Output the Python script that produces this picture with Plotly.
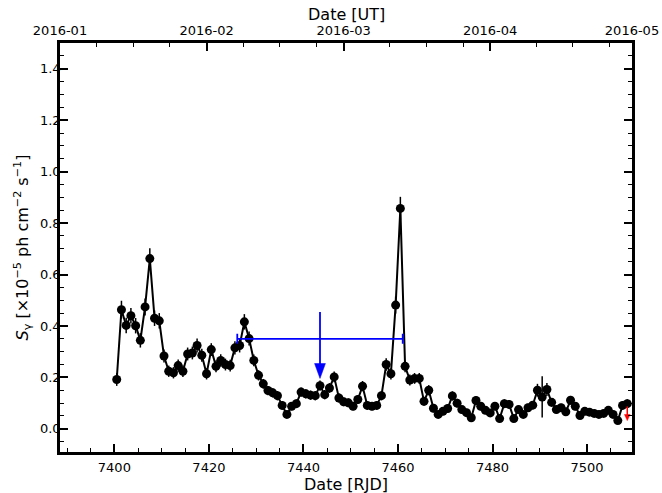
import numpy as np
import pandas as pd
import plotly.graph_objects as go

# ---------------- data ----------------
rjd = np.arange(7400.5, 7509.5, 1.0)  # daily bins (RJD = JD - 2450000)

flux = [0.192, 0.463, 0.402, 0.44, 0.401, 0.344, 0.474, 0.662, 0.43, 0.42,
        0.283, 0.224, 0.218, 0.246, 0.224, 0.291, 0.295, 0.324, 0.286, 0.214,
        0.308, 0.243, 0.266, 0.25, 0.246, 0.315, 0.324, 0.416, 0.351, 0.266,
        0.208, 0.175, 0.149, 0.14, 0.129, 0.091, 0.056, 0.088, 0.098, 0.143,
        0.136, 0.131, 0.129, 0.168, 0.133, 0.159, 0.202, 0.12, 0.105, 0.101,
        0.088, 0.114, 0.166, 0.091, 0.088, 0.091, 0.129, 0.25, 0.214, 0.481,
        0.857, 0.243, 0.19, 0.196, 0.196, 0.107, 0.15, 0.08, 0.056, 0.068,
        0.079, 0.128, 0.1, 0.075, 0.063, 0.043, 0.11, 0.088, 0.072, 0.062,
        0.088, 0.04, 0.098, 0.095, 0.04, 0.075, 0.056, 0.082, 0.092, 0.15,
        0.124, 0.153, 0.103, 0.075, 0.082, 0.066, 0.111, 0.088, 0.052, 0.068,
        0.065, 0.06, 0.056, 0.06, 0.072, 0.056, 0.032, 0.091, 0.098]

flux_err = [0.025, 0.035, 0.03, 0.03, 0.03, 0.028, 0.033, 0.04, 0.03, 0.03,
            0.025, 0.022, 0.022, 0.024, 0.022, 0.025, 0.025, 0.027, 0.025, 0.022,
            0.025, 0.023, 0.024, 0.023, 0.023, 0.026, 0.027, 0.03, 0.027, 0.023,
            0.02, 0.019, 0.018, 0.018, 0.018, 0.016, 0.014, 0.016, 0.017, 0.018,
            0.018, 0.018, 0.018, 0.02, 0.018, 0.019, 0.021, 0.018, 0.017, 0.017,
            0.016, 0.017, 0.02, 0.016, 0.016, 0.016, 0.018, 0.024, 0.022, 0.033,
            0.045, 0.023, 0.021, 0.021, 0.021, 0.017, 0.02, 0.016, 0.014, 0.015,
            0.016, 0.018, 0.017, 0.015, 0.015, 0.013, 0.017, 0.016, 0.015, 0.015,
            0.016, 0.013, 0.017, 0.017, 0.013, 0.015, 0.014, 0.016, 0.016, 0.025,
            0.08, 0.025, 0.017, 0.015, 0.016, 0.015, 0.017, 0.016, 0.014, 0.015,
            0.015, 0.014, 0.014, 0.014, 0.015, 0.014, 0.013, 0.016, 0.017]

# long-integration upper limit (blue)
ul_x = [7443.5]
ul_xerr = [17.5]
ul_y = [0.35]
ul_tip = [0.196]
ul_top = [0.454]

# last-bin upper limit (red)
red_x = [7508.5]
red_y = [0.087]
red_tip = [0.032]

month_labels = ["2016-01", "2016-02", "2016-03", "2016-04", "2016-05"]

# ---------------- helpers ----------------
def to_rjd(datestr):
    mjd = (pd.Timestamp(datestr) - pd.Timestamp("1858-11-17")).days
    return mjd - 49999.5

month_pos = [to_rjd(m + "-01") for m in month_labels]
step = (month_pos[1] - month_pos[0]) / 4.0
top_minor = [month_pos[0] + k * step for k in range(1, 16) if k % 4 != 0]

FONT = "DejaVu Sans"
BLUE = "#0000ff"
RED = "#ff0000"

fig = go.Figure()

# black light curve
fig.add_trace(go.Scatter(
    x=rjd, y=flux, mode="lines+markers",
    line=dict(color="black", width=2),
    marker=dict(color="black", size=9),
    error_y=dict(type="data", array=flux_err, color="black", thickness=1.5, width=0),
    showlegend=False, hoverinfo="skip"))

# blue upper limit: horizontal bar with caps + vertical shaft
fig.add_trace(go.Scatter(
    x=ul_x, y=ul_y, mode="markers", marker=dict(size=1, color=BLUE, opacity=0),
    error_x=dict(type="data", array=ul_xerr, color=BLUE, thickness=1.8, width=5),
    showlegend=False, hoverinfo="skip"))
fig.add_trace(go.Scatter(
    x=[ul_x[0], ul_x[0]], y=[ul_top[0], ul_tip[0] + 0.03], mode="lines",
    line=dict(color=BLUE, width=1.8), showlegend=False, hoverinfo="skip"))
hw, hh = 1.15, 0.058
fig.add_trace(go.Scatter(
    x=[ul_x[0] - hw, ul_x[0] + hw, ul_x[0], ul_x[0] - hw],
    y=[ul_tip[0] + hh, ul_tip[0] + hh, ul_tip[0], ul_tip[0] + hh],
    mode="lines", fill="toself", fillcolor=BLUE, line=dict(color=BLUE, width=0.5),
    showlegend=False, hoverinfo="skip"))

# red upper limit
fig.add_trace(go.Scatter(
    x=[red_x[0], red_x[0]], y=[red_y[0], red_tip[0] + 0.01], mode="lines",
    line=dict(color=RED, width=1.5), showlegend=False, hoverinfo="skip"))
rhw, rhh = 0.6, 0.024
fig.add_trace(go.Scatter(
    x=[red_x[0] - rhw, red_x[0] + rhw, red_x[0], red_x[0] - rhw],
    y=[red_tip[0] + rhh, red_tip[0] + rhh, red_tip[0], red_tip[0] + rhh],
    mode="lines", fill="toself", fillcolor=RED, line=dict(color=RED, width=0.5),
    showlegend=False, hoverinfo="skip"))

# invisible trace to activate top axis
fig.add_trace(go.Scatter(
    x=[month_pos[0], month_pos[-1]], y=[0, 0], xaxis="x2", mode="markers",
    marker=dict(opacity=0), showlegend=False, hoverinfo="skip"))

xr = [month_pos[0], month_pos[-1]]
tickfont = dict(family=FONT, size=13, color="black")
titlefont = dict(family=FONT, size=16, color="black")

fig.update_layout(
    width=662, height=493,
    margin=dict(l=60, r=30, t=43, b=41),
    paper_bgcolor="white", plot_bgcolor="white",
    font=dict(family=FONT, color="black"),
    xaxis=dict(
        range=xr, tick0=7400, dtick=20, ticks="inside", ticklen=8, tickwidth=1.5,
        tickcolor="black", ticklabelstandoff=2,
        minor=dict(tick0=7400, dtick=5, ticks="inside", ticklen=4, tickwidth=1, tickcolor="black"),
        showline=True, linewidth=2.5, linecolor="black", mirror=False,
        showgrid=False, zeroline=False, tickfont=tickfont,
        automargin=False),
    xaxis2=dict(
        range=xr, overlaying="x", side="top", anchor="y",
        tickmode="array", tickvals=month_pos, ticktext=month_labels,
        ticks="inside", ticklen=8, tickwidth=1.5, tickcolor="black",
        minor=dict(tickvals=top_minor, ticks="inside", ticklen=4, tickwidth=1, tickcolor="black"),
        showline=True, linewidth=2.5, linecolor="black",
        showgrid=False, zeroline=False, tickfont=tickfont,
        automargin=False),
    yaxis=dict(
        range=[-0.09, 1.5], tick0=0, dtick=0.2, tickformat=".1f",
        ticks="inside", ticklen=8, tickwidth=1.5, tickcolor="black",
        ticklabelstandoff=-6,
        minor=dict(tick0=0, dtick=0.05, ticks="inside", ticklen=4, tickwidth=1, tickcolor="black"),
        showline=True, linewidth=2.5, linecolor="black", mirror="ticks",
        showgrid=False, zeroline=False, tickfont=tickfont,
        title=dict(text="<i>S</i><sub>γ</sub> [×10<sup>−5</sup> ph cm<sup>−2</sup> s<sup>−1</sup>]",
                   font=titlefont, standoff=8),
        automargin=False),
    annotations=[
        dict(text="Date [RJD]", xref="paper", yref="paper", x=0.5, y=0,
             xanchor="center", yanchor="middle", yshift=-32, showarrow=False,
             font=titlefont),
        dict(text="Date [UT]", xref="paper", yref="paper", x=0.5, y=1,
             xanchor="center", yanchor="middle", yshift=29, showarrow=False,
             font=titlefont),
    ],
)

fig.write_html("out.html", config={"displayModeBar": False},
               post_script="document.body.style.margin='0px';document.body.style.overflow='hidden';")
